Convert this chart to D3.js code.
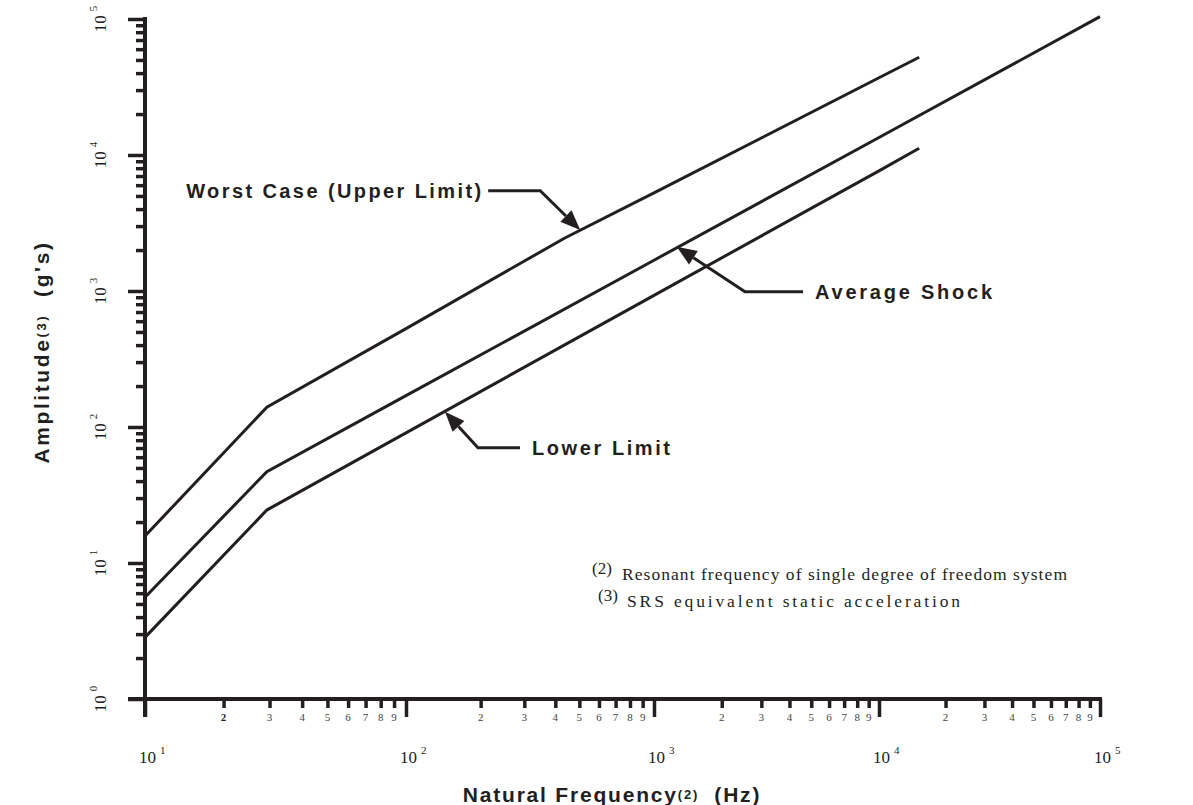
<!DOCTYPE html>
<html><head><meta charset="utf-8">
<script src="https://cdn.jsdelivr.net/npm/d3@7"></script>
<style>body{margin:0;background:#fff;} svg{display:block;}</style>
</head><body>
<svg id="c" width="1193" height="805"></svg>
<script>
// ---- data ----
const xMajor = [10, 100, 1000, 10000, 100000];
const yMajor = [1, 10, 100, 1000, 10000, 100000];
const minorDigits = [2, 3, 4, 5, 6, 7, 8, 9];
const worstFreq = [10, 29.3, 100, 437, 1000, 10000, 15200];
const worstAmp  = [15.8, 140, 529, 2455, 5260, 37000, 52300];
const avgFreq   = [10, 29.3, 100, 1000, 10000, 100000];
const avgAmp    = [5.6, 46.9, 170, 1684, 13460, 104000];
const lowerFreq = [10, 29.3, 100, 1000, 10000, 15200];
const lowerAmp  = [2.84, 24.5, 90.6, 929, 7650, 11200];
const seriesNames = ["Worst Case (Upper Limit)", "Average Shock", "Lower Limit"];
const arrowFreq = [504, 1262, 143.6];
const arrowAmp  = [2810, 2117, 129.6];
const footMarks = ["(2)", "(3)"];
const footTexts = ["Resonant frequency of single degree of freedom system", "SRS equivalent static acceleration"];
const xTitle = ["Natural Frequency", "(2)", "  (Hz)"];
const yTitle = ["Amplitude", "(3)", "  (g's)"];

// ---- scales ----
const INK = "#231f20";
const svg = d3.select("#c");
const xLog = d3.scaleLinear().domain([1, 2, 3, 4, 5]).range([145, 406, 654, 879, 1100]);
const x = v => xLog(Math.log10(v));
const y = d3.scaleLog().domain([1, 1e5]).range([699, 19]);

// ---- axes ----
const xMinorLog = [];
for (let k = 0; k < 4; k++) minorDigits.forEach(d => xMinorLog.push(Math.log10(d * xMajor[k])));
const yMinor = [];
for (let k = 0; k < 5; k++) minorDigits.forEach(d => yMinor.push(d * yMajor[k]));

function styleAxis(g) {
  g.select(".domain").remove();
  g.selectAll(".tick line").attr("stroke", INK).attr("stroke-width", 3.5);
  g.selectAll(".tick text").remove();
}
svg.append("g").attr("transform", "translate(0,699)")
  .call(d3.axisBottom(xLog).tickValues(xMinorLog).tickSize(9).tickFormat("")).call(styleAxis);
svg.append("g").attr("transform", "translate(0,699)")
  .call(d3.axisBottom(xLog).tickValues(xMajor.map(Math.log10)).tickSize(18).tickFormat("")).call(styleAxis);
svg.append("g").attr("transform", "translate(145,0)")
  .call(d3.axisLeft(y).tickValues(yMinor).tickSize(9).tickFormat("")).call(styleAxis);
svg.append("g").attr("transform", "translate(145,0)")
  .call(d3.axisLeft(y).tickValues(yMajor).tickSize(17).tickFormat("")).call(styleAxis);
// axis lines
svg.append("line").attr("x1", 128).attr("x2", x(1e5) + 2).attr("y1", y(1)).attr("y2", y(1))
  .attr("stroke", INK).attr("stroke-width", 4);
svg.append("line").attr("x1", 145).attr("x2", 145).attr("y1", y(1e5) - 2).attr("y2", y(1) + 18)
  .attr("stroke", INK).attr("stroke-width", 4);

// minor x labels
const serif = "'Liberation Serif','Times New Roman',serif";
const sans = "'Liberation Sans',Arial,Helvetica,sans-serif";
for (let k = 0; k < 4; k++) minorDigits.forEach(d => {
  svg.append("text").attr("x", x(d * xMajor[k])).attr("y", 721)
    .attr("text-anchor", "middle").attr("font-family", serif).attr("font-size", 11)
    .attr("font-weight", (k === 0 && d === 2) ? "bold" : "normal")
    .attr("fill", (k === 0 && d === 2) ? INK : "#444").text(d);
});
// major x labels
xMajor.forEach((v, i) => {
  const t = svg.append("text").attr("x", x(v) - 6).attr("y", 763)
    .attr("text-anchor", "start").attr("font-family", serif).attr("font-size", 17).attr("fill", INK);
  t.append("tspan").text("10");
  t.append("tspan").attr("dx", 4).attr("dy", -9).attr("font-size", 11).text(String(Math.round(Math.log10(v))));
});
// major y labels (rotated)
yMajor.forEach(v => {
  const t = svg.append("text").attr("transform", `translate(106,${y(v)}) rotate(-90)`)
    .attr("text-anchor", "middle").attr("font-family", serif).attr("font-size", 17).attr("fill", INK);
  t.append("tspan").text("10");
  t.append("tspan").attr("dx", 4).attr("dy", -9).attr("font-size", 11).text(String(Math.round(Math.log10(v))));
});

// ---- series lines ----
const line = d3.line().x(d => x(d[0])).y(d => y(d[1]));
[[worstFreq, worstAmp], [avgFreq, avgAmp], [lowerFreq, lowerAmp]].forEach(([f, a]) => {
  svg.append("path").datum(f.map((fv, i) => [fv, a[i]])).attr("d", line)
    .attr("fill", "none").attr("stroke", INK).attr("stroke-width", 3).attr("stroke-linejoin", "miter");
});

// ---- annotations ----
const ann = [
  { corner: [-40, -39.3], tail: -52, anchor: "end", textX: -7, len: 295 },
  { corner: [68.3, 45], tail: 58, anchor: "start", textX: 12, len: 177 },
  { corner: [33, 36], tail: 42, anchor: "start", textX: 12, len: 138 }
];
seriesNames.forEach((name, i) => {
  const tip = [x(arrowFreq[i]), y(arrowAmp[i])];
  const a = ann[i];
  const c = [tip[0] + a.corner[0], tip[1] + a.corner[1]];
  const e = [c[0] + a.tail, c[1]];
  const dx = tip[0] - c[0], dy = tip[1] - c[1], L = Math.hypot(dx, dy);
  const ux = dx / L, uy = dy / L, hl = 20, hw = 8;
  const b = [tip[0] - ux * hl, tip[1] - uy * hl];
  svg.append("path").attr("d", `M${e[0]},${e[1]}L${c[0]},${c[1]}L${b[0]},${b[1]}`)
    .attr("fill", "none").attr("stroke", INK).attr("stroke-width", 3);
  svg.append("path").attr("d", `M${tip[0]},${tip[1]}L${b[0] - uy * hw},${b[1] + ux * hw}L${b[0] + uy * hw},${b[1] - ux * hw}Z`)
    .attr("fill", INK);
  const tx = e[0] + a.textX;
  svg.append("text").attr("x", a.anchor === "end" ? tx - a.len : tx).attr("y", c[1] + 7)
    .attr("font-family", sans).attr("font-weight", "bold").attr("font-size", 20).attr("fill", INK)
    .attr("textLength", a.len).attr("lengthAdjust", "spacing").text(name);
});

// ---- footnotes ----
const footY = [580, 607];
const footMarkX = [592, 598];
const footTextX = [622, 627];
const footLen = [445, 333];
footTexts.forEach((s, i) => {
  svg.append("text").attr("x", footMarkX[i]).attr("y", footY[i] - 6)
    .attr("font-family", serif).attr("font-size", 17).attr("fill", INK).text(footMarks[i]);
  svg.append("text").attr("x", footTextX[i]).attr("y", footY[i])
    .attr("font-family", serif).attr("font-size", 17.5).attr("fill", INK)
    .attr("textLength", footLen[i]).attr("lengthAdjust", "spacing").text(s);
});

// ---- axis titles ----
const xt = svg.append("text").attr("x", 612).attr("y", 802).attr("text-anchor", "middle")
  .attr("font-family", sans).attr("font-weight", "bold").attr("font-size", 21).attr("letter-spacing", 1.8).attr("fill", INK);
xt.append("tspan").text(xTitle[0]);
xt.append("tspan").attr("font-size", 13).attr("dy", -3).text(xTitle[1]);
xt.append("tspan").attr("dy", 3).style("white-space", "pre").text(xTitle[2]);

const yt = svg.append("text").attr("transform", "translate(49,352) rotate(-90)").attr("text-anchor", "middle")
  .attr("font-family", sans).attr("font-weight", "bold").attr("font-size", 21).attr("letter-spacing", 2.6).attr("fill", INK);
yt.append("tspan").text(yTitle[0]);
yt.append("tspan").attr("font-size", 13).attr("dy", -3).text(yTitle[1]);
yt.append("tspan").attr("dy", 3).style("white-space", "pre").text(yTitle[2]);
</script>
</body></html>
